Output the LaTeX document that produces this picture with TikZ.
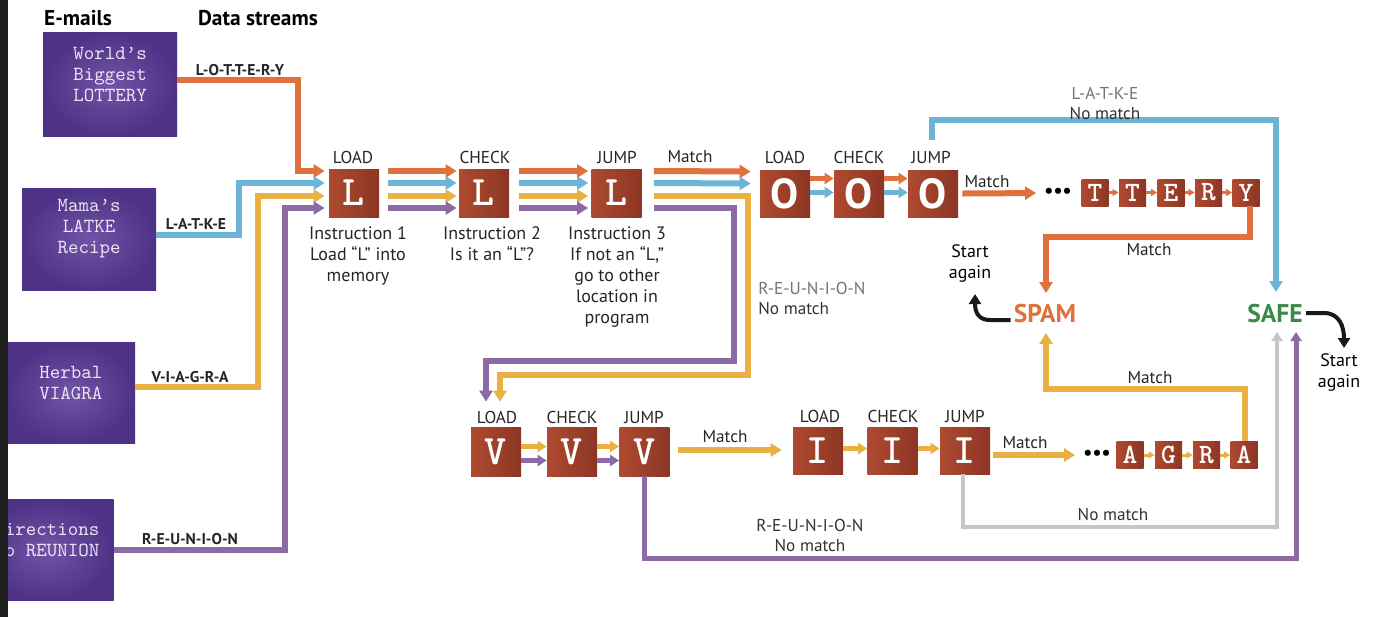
\documentclass[tikz,border=0pt]{standalone}
\usepackage{fontspec}
\setmainfont{PT Sans}
\usetikzlibrary{arrows.meta,calc}
\definecolor{cOr}{HTML}{E0703C}
\definecolor{cBl}{HTML}{6CB4D8}
\definecolor{cYe}{HTML}{E9B043}
\definecolor{cPu}{HTML}{8C6AA6}
\definecolor{cGr}{HTML}{C6C6C6}
\definecolor{cBox}{HTML}{AE4A30}
\definecolor{cBoxD}{HTML}{8C3624}
\definecolor{cEm}{HTML}{4E3285}
\definecolor{cEmL}{HTML}{7154A6}
\definecolor{cEmT}{HTML}{ECE4F5}
\definecolor{cSafe}{HTML}{3C8A48}
\newcommand{\fHead}{\bfseries\fontsize{10.7}{12}\selectfont}
\newcommand{\fStep}{\fontsize{8.6}{10}\selectfont}
\newcommand{\fInst}{\fontsize{9}{10.5}\selectfont}
\newcommand{\fStream}{\bfseries\fontsize{7.8}{9}\selectfont}
\newcommand{\fBig}{\ttfamily\bfseries\fontsize{21}{21}\selectfont}
\newcommand{\fOh}{\bfseries\fontsize{21}{21}\selectfont}
\newcommand{\fSmall}{\ttfamily\bfseries\fontsize{14}{14}\selectfont}
\newcommand{\fMono}{\ttfamily\fontsize{10}{10.5}\selectfont}
\newcommand{\fVerdict}{\bfseries\fontsize{12.8}{14}\selectfont}
\begin{document}
\begin{tikzpicture}[x=0.5pt,y=-0.5pt,
  wire/.style={line width=3pt},
  tipA/.style={-{Triangle[length=5.5pt,width=6.5pt]}},
  tipM/.style={-{Triangle[length=4.5pt,width=5.5pt]}},
  tipS/.style={-{Triangle[length=3pt,width=3.5pt]}},
  emailbox/.style={inner color=cEmL, outer color=cEm, inner sep=0pt},
  etext/.style={text=cEmT, font=\fMono, align=center, inner sep=0pt},
  bigbox/.style={minimum width=25pt, minimum height=24pt, inner sep=0pt, left color=cBox, right color=cBoxD, text=white, font=\fBig},
  obox/.style={bigbox, font=\fOh},
  smallbox/.style={minimum width=13.5pt, minimum height=13.5pt, inner sep=0pt, left color=cBox, right color=cBoxD, text=white, font=\fSmall},
  steplbl/.style={font=\fStep, inner sep=0pt, text=black!85},
  inst/.style={font=\fInst, align=center, inner sep=0pt, anchor=north, text=black!85},
  matchlbl/.style={font=\fStep, inner sep=0pt, text=black!85},
  nolbl/.style={font=\fStep, inner sep=0pt, align=center, text=black!80},
  stream/.style={font=\fStream, inner sep=0pt, text=black!85},
  dotsn/.style={font=\bfseries\fontsize{10}{10}\selectfont, inner sep=0pt},
  blk/.style={line width=2pt, black!90, -{Triangle[length=5pt,width=6pt]}},
]
\useasboundingbox (0,0) rectangle (1384,617);
\clip (0,0) rectangle (1384,617);
\fill[white] (0,0) rectangle (1384,617);

% headers
\node[font=\fHead, inner sep=0pt] (hE) at (78,18) {E-mails};
\node[font=\fHead, inner sep=0pt] (hD) at (258,18) {Data streams};

% e-mail boxes
\node[emailbox, minimum width=67pt, minimum height=52pt] (e1) at (110,84) {};
\node[etext] (e1t) at ($(e1)+(0,-10)$) {World’s\\Biggest\\LOTTERY};
\node[emailbox, minimum width=67pt, minimum height=51pt] (e2) at (89,239) {};
\node[etext] (e2t) at ($(e2)+(0,-10)$) {Mama’s\\LATKE\\Recipe};
\node[emailbox, minimum width=64pt, minimum height=50.5pt] (e3) at (71,393) {};
\node[etext] (e3t) at ($(e3)+(0,-10)$) {Herbal\\VIAGRA};
\node[emailbox, minimum width=66.5pt, minimum height=50.5pt] (e4) at (47,550) {};
\node[etext] (e4t) at ($(e4)+(0,-10)$) {Directions\\to REUNION};
\fill[black!88] (0,0) rectangle (8,617);

% stream labels
\node[stream] (sl1) at (240,70) {L-O-T-T-E-R-Y};
\node[stream] (sl2) at (196,224) {L-A-T-K-E};
\node[stream] (sl3) at (190,377) {V-I-A-G-R-A};
\node[stream] (sl4) at (190,539) {R-E-U-N-I-O-N};

% L row
\node[bigbox] (L1) at (354,193) {L};
\node[bigbox] (L2) at (484,193) {L};
\node[bigbox] (L3) at (616.5,193) {L};
\node[steplbl] (tL1) at (353,157) {LOAD};
\node[steplbl] (tL2) at (485,157) {CHECK};
\node[steplbl] (tL3) at (617,157) {JUMP};
\node[inst] (iL1) at (358,226) {Instruction 1\\Load “L” into\\memory};
\node[inst] (iL2) at (492,226) {Instruction 2\\Is it an “L”?};
\node[inst] (iL3) at (617,226) {Instruction 3\\If not an “L,”\\go to other\\location in\\program};

% O row
\node[obox, minimum height=23.5pt] (O1) at (785,193.5) {O};
\node[obox, minimum height=23.5pt] (O2) at (859,193.5) {O};
\node[obox, minimum height=23.5pt] (O3) at (933,193.5) {O};
\node[steplbl] (tO1) at (785,157) {LOAD};
\node[steplbl] (tO2) at (859,157) {CHECK};
\node[steplbl] (tO3) at (931,157) {JUMP};

% TTERY
\node[smallbox] (T1) at (1095,192.5) {T};
\node[smallbox] (T2) at (1132.5,192.5) {T};
\node[smallbox] (E1) at (1171,192.5) {E};
\node[smallbox] (R1) at (1208.5,192.5) {R};
\node[smallbox] (Y1) at (1246,192.5) {Y};
\node[dotsn] (d1) at (1058,193) {•••};

% V row
\node[bigbox, minimum height=24.5pt] (V1) at (496,451.5) {V};
\node[bigbox, minimum height=24.5pt] (V2) at (572,451.5) {V};
\node[bigbox, minimum height=24.5pt] (V3) at (644.5,451.5) {V};
\node[steplbl] (tV1) at (497,417) {LOAD};
\node[steplbl] (tV2) at (572,417) {CHECK};
\node[steplbl] (tV3) at (644,417) {JUMP};

% I row
\node[bigbox, minimum height=23.5pt] (I1) at (818,450.5) {I};
\node[bigbox, minimum height=23.5pt] (I2) at (892.5,450.5) {I};
\node[bigbox, minimum height=23.5pt] (I3) at (965,450.5) {I};
\node[steplbl] (tI1) at (820,416) {LOAD};
\node[steplbl] (tI2) at (893,416) {CHECK};
\node[steplbl] (tI3) at (965,416) {JUMP};

% AGRA
\node[smallbox] (A1) at (1130,455) {A};
\node[smallbox] (G1) at (1168.5,455) {G};
\node[smallbox] (R2) at (1206.5,455) {R};
\node[smallbox] (A2) at (1244,455) {A};
\node[dotsn] (d2) at (1097,455) {•••};

% verdicts
\node[font=\fVerdict, text=cOr, inner sep=0pt] (SPAM) at (1045,314) {SPAM};
\node[font=\fVerdict, text=cSafe, inner sep=0pt] (SAFE) at (1275,314) {SAFE};
\node[font=\fInst, align=center, inner sep=0pt] (sa1) at (970,263) {Start\\again};
\node[font=\fInst, align=center, inner sep=0pt] (sa2) at (1339,372) {Start\\again};

% streams into L1
\draw[wire,cOr,tipA] ($(e1.east)+(0,-4)$) -| ($(L1.west)+(-31,-22)$) -- ($(L1.west)+(-4,-22)$);
\draw[wire,cBl,tipA] ($(e2.east)+(0,-4)$) -| ($(L1.west)+(-90,-10)$) -- ($(L1.west)+(-4,-10)$);
\draw[wire,cYe,tipA] ($(e3.east)+(0,-6)$) -| ($(L1.west)+(-71,3)$) -- ($(L1.west)+(-4,3)$);
\draw[wire,cPu,tipA] (e4.east) -| ($(L1.west)+(-44,15)$) -- ($(L1.west)+(-4,15)$);

% L row lanes
\foreach \c/\d in {cOr/-22,cBl/-10,cYe/3,cPu/15}{
  \draw[wire,\c,tipA] ($(L1.east)+(9,\d)$) -- ($(L2.west)+(-2,\d)$);
  \draw[wire,\c,tipA] ($(L2.east)+(10,\d)$) -- ($(L3.west)+(-3,\d)$);
}

% after L3
\draw[wire,cOr,tipA] ($(L3.east)+(12,-22)$) -- ($(O1.west)+(-9,-22)$);
\draw[wire,cBl,tipA] ($(L3.east)+(12,-10)$) -- ($(O1.west)+(-9,-10)$);
\node[matchlbl] (m1) at (690,157) {Match};
\draw[wire,cYe,tipA] ($(L3.east)+(12,3)$) -- ++(94,0) |- ($(V1.north)+(4,-52)$) -- ($(V1.north)+(4,-25)$);
\draw[wire,cPu,tipA] ($(L3.east)+(12,15)$) -- ++(80,0) |- ($(V1.north)+(-10,-66)$) -- ($(V1.north)+(-10,-25)$);
\node[nolbl, anchor=west, align=left] (nm1) at (758,298) {\textcolor{black!55}{R-E-U-N-I-O-N}\\No match};

% O row lanes
\foreach \c/\d in {cOr/-15,cBl/-1}{
  \draw[line width=2.5pt,\c,tipM] ($(O1.east)+(0,\d)$) -- ($(O2.west)+(0,\d)$);
  \draw[line width=2.5pt,\c,tipM] ($(O2.east)+(0,\d)$) -- ($(O3.west)+(0,\d)$);
}
\draw[wire,cBl,tipA] ($(O3.north)+(-1,-30)$) -- ++(0,-20) -| ($(SAFE)+(1,-22)$);
\node[nolbl] (nm2) at (1105,103) {\textcolor{black!55}{L-A-T-K-E}\\No match};
\draw[wire,cOr,tipA,shorten >=4pt] ($(O3.east)+(4,0)$) -- (d1.west);
\node[matchlbl] (m2) at (987,182) {Match};

% TTERY arrows
\draw[line width=1.5pt,cOr,tipS] (T1.east) -- (T2.west);
\draw[line width=1.5pt,cOr,tipS] (T2.east) -- (E1.west);
\draw[line width=1.5pt,cOr,tipS] (E1.east) -- (R1.west);
\draw[line width=1.5pt,cOr,tipS] (R1.east) -- (Y1.west);
\draw[wire,cOr,tipA] ($(Y1.south)+(4,0)$) |- ($(SPAM)+(1,-77)$) -- ($(SPAM)+(1,-21)$);
\node[matchlbl] (m3) at (1149,250) {Match};

% V row lanes
\foreach \c/\d in {cYe/-5,cPu/9}{
  \draw[line width=2.5pt,\c,tipM] ($(V1.east)+(0,\d)$) -- ($(V2.west)+(0,\d)$);
  \draw[line width=2.5pt,\c,tipM] ($(V2.east)+(0,\d)$) -- ($(V3.west)+(0,\d)$);
}
\draw[wire,cYe,tipA] ($(V3.east)+(8,-1.5)$) -- ($(I1.west)+(-11,-0.5)$);
\node[matchlbl] (m4) at (725,437) {Match};

% I row lanes
\draw[line width=2.5pt,cYe,tipM] ($(I1.east)+(0,-2)$) -- ($(I2.west)+(0,-2)$);
\draw[line width=2.5pt,cYe,tipM] ($(I2.east)+(0,-2)$) -- ($(I3.west)+(0,-2)$);
\draw[wire,cYe,tipA,shorten >=4pt] ($(I3.east)+(3,4.5)$) -- (d2.west);
\node[matchlbl] (m5) at (1025,443) {Match};

% AGRA arrows
\draw[line width=1.5pt,cYe,tipS] (A1.east) -- (G1.west);
\draw[line width=1.5pt,cYe,tipS] (G1.east) -- (R2.west);
\draw[line width=1.5pt,cYe,tipS] (R2.east) -- (A2.west);
\draw[wire,cYe,tipA] ($(A2.north)+(1,0)$) |- ($(SPAM)+(1,75)$) -- ($(SPAM)+(1,19)$);
\node[matchlbl] (m6) at (1150,378) {Match};

% no-match returns to SAFE
\draw[line width=2pt,cGr,tipM] ($(I3.south)+(-2,0)$) |- ($(SAFE)+(2,213)$) -- ($(SAFE)+(2,18)$);
\node[nolbl] (nm3) at (1113,514) {No match};
\draw[line width=2.5pt,cPu,tipM] (V3.south) |- ($(SAFE)+(21,244)$) -- ($(SAFE)+(21,18)$);
\node[nolbl] (nm4) at (810,535) {R-E-U-N-I-O-N\\No match};

% start again arrows
\coordinate (tipL) at (975,294);
\coordinate (tipR) at (1344,348);
\draw[blk] ($(SPAM.west)+(-3,6)$) -- (990,320) .. controls (979,320) and (975,313) .. (tipL);
\draw[blk] ($(SAFE.east)+(3,-1)$) -- (1324,313) .. controls (1339,313) and (1344,326) .. (tipR);
\end{tikzpicture}
\end{document}
